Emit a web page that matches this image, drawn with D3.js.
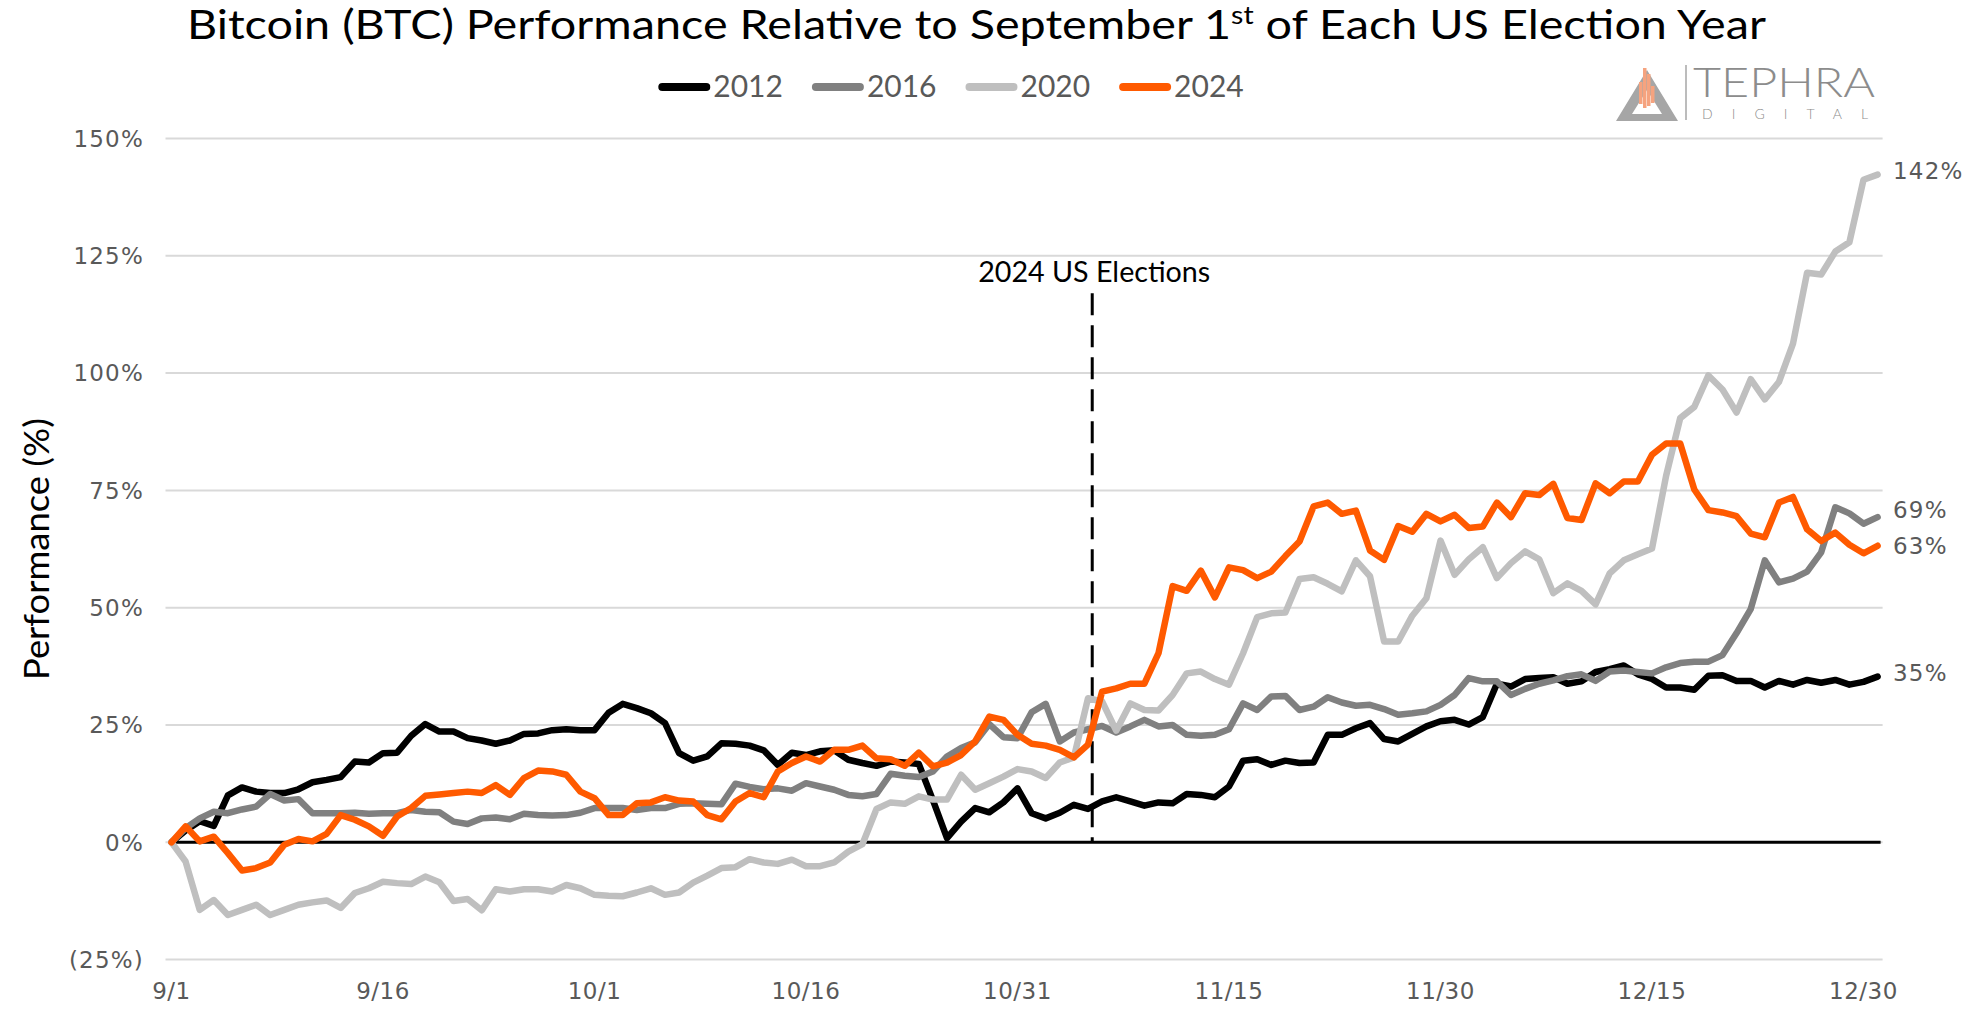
<!DOCTYPE html>
<html>
<head>
<meta charset="utf-8">
<script src="https://cdn.jsdelivr.net/npm/d3@7"></script>
<style>
  html, body { margin: 0; padding: 0; background: #fff; }
  svg { display: block; }
</style>
</head>
<body>
<div id="plot"></div>
<script>
/* Data: % change vs. Sep 1, one value per day from 9/1 to 12/31 */
var years = ['2012', '2016', '2020', '2024'];
var colors = ['#000000', '#808080', '#bfbfbf', '#ff5a00'];

var perf2012 = [
  0, 2.5, 4.5, 3.5, 10, 11.7, 10.8, 10.5, 10.5, 11.3, 12.8, 13.3, 13.9, 17.2, 17.0, 19.0, 19.1, 22.7, 25.2, 23.6,
  23.6, 22.2, 21.7, 21.0, 21.7, 23.1, 23.2, 23.9, 24.1, 23.9, 23.9, 27.6, 29.5, 28.6, 27.5, 25.4, 19.0, 17.4, 18.3, 21.1,
  21.0, 20.6, 19.6, 16.5, 19.1, 18.6, 19.4, 19.6, 17.6, 16.9, 16.3, 17.2, 17.0, 16.7, 9.0, 0.9, 4.4, 7.3, 6.4, 8.5,
  11.5, 6.2, 5.1, 6.3, 8.0, 7.1, 8.7, 9.6, 8.7, 7.8, 8.5, 8.3, 10.3, 10.1, 9.6, 11.9, 17.4, 17.7, 16.5, 17.4,
  16.9, 17.0, 22.9, 22.9, 24.3, 25.4, 22.0, 21.5, 23.1, 24.7, 25.8, 26.1, 25.1, 26.7, 33.8, 33.2, 34.8, 35.0, 35.2, 33.8,
  34.3, 36.3, 36.9, 37.7, 35.8, 34.8, 33.0, 33.0, 32.5, 35.5, 35.6, 34.4, 34.4, 33.0, 34.4, 33.6, 34.6, 34.0, 34.6, 33.6,
  34.2, 35.3
];
var perf2016 = [
  0, 3.0, 5.1, 6.5, 6.2, 7.0, 7.6, 10.3, 8.9, 9.2, 6.2, 6.2, 6.2, 6.3, 6.1, 6.2, 6.2, 6.9, 6.5, 6.4,
  4.4, 3.9, 5.1, 5.3, 4.9, 6.1, 5.8, 5.7, 5.8, 6.3, 7.3, 7.3, 7.3, 6.9, 7.3, 7.3, 8.2, 8.3, 8.2, 8.1,
  12.5, 11.8, 11.3, 11.5, 11.0, 12.6, 11.9, 11.2, 10.1, 9.8, 10.3, 14.6, 14.2, 13.9, 15.1, 18.3, 20.1, 21.3, 25.2, 22.4,
  22.2, 27.7, 29.5, 21.5, 23.4, 24.1, 24.8, 23.4, 24.7, 26.1, 24.7, 25.0, 22.9, 22.7, 22.9, 24.1, 29.6, 28.2, 31.1, 31.2,
  28.2, 28.9, 30.9, 29.8, 29.1, 29.3, 28.4, 27.2, 27.5, 27.9, 29.3, 31.4, 35.0, 34.3, 34.3, 31.4, 32.7, 33.8, 34.5, 35.4,
  35.8, 34.4, 36.4, 36.6, 36.3, 36.0, 37.3, 38.2, 38.5, 38.5, 39.9, 44.6, 49.7, 60.1, 55.4, 56.2, 57.7, 61.8, 71.4, 70.1,
  67.9, 69.3
];
var perf2020 = [
  0, -4.1, -14.4, -12.3, -15.5, -14.4, -13.3, -15.5, -14.4, -13.3, -12.8, -12.4, -14.0, -10.8, -9.8, -8.4, -8.7, -8.9, -7.3, -8.5,
  -12.5, -12.1, -14.5, -10.0, -10.5, -10.0, -10.0, -10.5, -9.1, -9.8, -11.2, -11.4, -11.5, -10.7, -9.8, -11.2, -10.7, -8.6, -7.1, -5.5,
  -5.3, -3.6, -4.3, -4.6, -3.7, -5.1, -5.1, -4.3, -2.0, -0.4, 7.1, 8.5, 8.2, 9.8, 9.1, 9.1, 14.4, 11.2, 12.6, 14.0,
  15.6, 15.1, 13.7, 17.0, 18.1, 30.7, 30.0, 23.8, 29.6, 28.2, 28.1, 31.4, 36.0, 36.4, 34.8, 33.6, 40.3, 48.0, 48.8, 49.0,
  56.1, 56.5, 55.1, 53.5, 60.1, 56.7, 42.8, 42.8, 48.3, 52.0, 64.3, 57.0, 60.3, 62.9, 56.3, 59.5, 62.0, 60.3, 53.1, 55.2,
  53.6, 50.7, 57.3, 60.1, 61.4, 62.6, 78.1, 90.4, 92.8, 99.5, 96.5, 91.6, 98.7, 94.4, 98.1, 106.3, 121.4, 121.0, 125.9, 127.9,
  141.2, 142.3
];
var perf2024 = [
  0, 3.4, 0.2, 1.2, -2.3, -6.0, -5.5, -4.3, -0.5, 0.7, 0.2, 1.8, 5.8, 4.8, 3.4, 1.4, 5.5, 7.3, 9.9, 10.2,
  10.5, 10.8, 10.5, 12.2, 10.1, 13.7, 15.3, 15.1, 14.4, 10.8, 9.4, 5.8, 5.8, 8.3, 8.5, 9.6, 8.9, 8.7, 5.8, 4.9,
  8.7, 10.5, 9.6, 15.1, 16.9, 18.3, 17.2, 19.7, 19.7, 20.6, 17.9, 17.7, 16.3, 19.1, 16.2, 17.0, 18.6, 21.5, 26.8, 26.1,
  22.9, 21.0, 20.6, 19.7, 18.1, 20.8, 32.1, 32.8, 33.8, 33.8, 40.3, 54.6, 53.6, 57.9, 52.2, 58.6, 58.0, 56.3, 57.7, 61.0,
  64.1, 71.6, 72.4, 70.0, 70.7, 62.2, 60.2, 67.4, 66.2, 70.0, 68.4, 69.8, 67.0, 67.3, 72.4, 69.3, 74.4, 74.0, 76.4, 69.1,
  68.7, 76.5, 74.4, 76.9, 76.9, 82.6, 85.0, 85.0, 75.2, 70.8, 70.3, 69.5, 65.8, 65.0, 72.4, 73.6, 66.7, 64.2, 66.0, 63.4,
  61.6, 63.2
];
var series = [perf2012, perf2016, perf2020, perf2024];

var xTickIndex = [0, 15, 30, 45, 60, 75, 90, 105, 120];
var xTickLabels = ['9/1', '9/16', '10/1', '10/16', '10/31', '11/15', '11/30', '12/15', '12/30'];
var yTicks = [-25, 0, 25, 50, 75, 100, 125, 150];

// election day marker (day index after 9/1) and its vertical extent in %
var electionDay = 65.3;
var electionSpan = [0, 117];
var electionLabel = '2024 US Elections';

/* Setup */
var W = 1985, H = 1009;
var svg = d3.select('div#plot').append('svg')
  .attr('width', W)
  .attr('height', H);

var x = d3.scaleLinear().domain([0, perf2012.length - 1]).range([171.5, 1877.6]);
var y = d3.scaleLinear().domain([-25, 150]).range([959.6, 138.5]);

var tickFont = 'DejaVu Sans';
var textFont = 'Lato';

/* Title */
var title = svg.append('text')
  .attr('x', 187)
  .attr('y', 39)
  .attr('textLength', 1579)
  .attr('lengthAdjust', 'spacingAndGlyphs')
  .style('font-family', textFont)
  .style('font-size', '41px')
  .style('fill', '#000');
title.append('tspan').text('Bitcoin (BTC) Performance Relative to September 1');
title.append('tspan').attr('dy', -15).style('font-size', '25px').text('st');
title.append('tspan').attr('dy', 15).text(' of Each US Election Year');

/* Legend */
var legend = svg.append('g');
var lx = 0;
years.forEach(function(yr, i) {
  var item = legend.append('g').attr('transform', 'translate(' + lx + ',0)');
  item.append('line')
    .attr('x1', 4).attr('x2', 48)
    .attr('y1', 0).attr('y2', 0)
    .attr('stroke', colors[i])
    .attr('stroke-width', 8)
    .attr('stroke-linecap', 'round');
  var t = item.append('text')
    .attr('x', 55)
    .attr('y', 10)
    .style('font-family', textFont)
    .style('font-size', '30px')
    .style('fill', '#595959')
    .text(yr);
  lx += 55 + t.node().getComputedTextLength() + 29;
});
lx -= 29;
legend.attr('transform', 'translate(' + (951 - lx / 2) + ',87)');

/* Grid */
svg.append('g').selectAll('line')
  .data(yTicks)
  .enter()
  .append('line')
  .attr('x1', x(0) - 6)
  .attr('x2', x(perf2012.length - 1) + 5)
  .attr('y1', function(d) { return y(d); })
  .attr('y2', function(d) { return y(d); })
  .attr('stroke', '#d9d9d9')
  .attr('stroke-width', 2);

/* Y axis labels */
svg.append('g').selectAll('text')
  .data(yTicks)
  .enter()
  .append('text')
  .attr('x', 144)
  .attr('y', function(d) { return y(d); })
  .attr('dy', '0.36em')
  .attr('text-anchor', 'end')
  .style('font-family', tickFont)
  .style('font-size', '23px')
  .style('letter-spacing', '1.2px')
  .style('fill', '#595959')
  .text(function(d) { return d < 0 ? '(' + Math.abs(d) + '%)' : d + '%'; });

svg.append('text')
  .attr('transform', 'translate(37,549) rotate(-90)')
  .attr('text-anchor', 'middle')
  .attr('dy', '0.35em')
  .attr('textLength', 262)
  .attr('lengthAdjust', 'spacingAndGlyphs')
  .style('font-family', textFont)
  .style('font-size', '35px')
  .style('fill', '#000')
  .text('Performance (%)');

/* X axis labels */
svg.append('g').selectAll('text')
  .data(xTickIndex)
  .enter()
  .append('text')
  .attr('x', function(d) { return x(d); })
  .attr('y', 991)
  .attr('dy', '0.36em')
  .attr('text-anchor', 'middle')
  .style('font-family', tickFont)
  .style('font-size', '23px')
  .style('letter-spacing', '0.5px')
  .style('fill', '#595959')
  .text(function(d, i) { return xTickLabels[i]; });

/* Zero line */
svg.append('line')
  .attr('x1', x(0))
  .attr('x2', x(perf2012.length - 1) + 3)
  .attr('y1', y(0))
  .attr('y2', y(0))
  .attr('stroke', '#000')
  .attr('stroke-width', 3);

/* Election marker */
svg.append('line')
  .attr('x1', x(electionDay)).attr('x2', x(electionDay))
  .attr('y1', y(electionSpan[1])).attr('y2', y(electionSpan[0]))
  .attr('stroke', '#000')
  .attr('stroke-width', 3)
  .attr('stroke-dasharray', '22,10');
svg.append('text')
  .attr('x', x(electionDay) + 2)
  .attr('y', y(electionSpan[1]) - 21)
  .attr('dy', '0.35em')
  .attr('text-anchor', 'middle')
  .attr('textLength', 232)
  .attr('lengthAdjust', 'spacingAndGlyphs')
  .style('font-family', textFont)
  .style('font-size', '28px')
  .style('fill', '#000')
  .text(electionLabel);

/* Lines */
var line = d3.line()
  .x(function(d, i) { return x(i); })
  .y(function(d) { return y(d); });

svg.append('g').selectAll('path')
  .data(series)
  .enter()
  .append('path')
  .attr('d', line)
  .attr('fill', 'none')
  .attr('stroke', function(d, i) { return colors[i]; })
  .attr('stroke-width', 6.5)
  .attr('stroke-linejoin', 'round')
  .attr('stroke-linecap', 'round');

/* End labels, pushed apart when they would overlap */
var ends = series.map(function(s) {
  var v = s[s.length - 1];
  return { v: v, y: y(v) - 4 };
}).sort(function(a, b) { return a.y - b.y; });
for (var k = 1; k < ends.length; k++) {
  if (ends[k].y - ends[k - 1].y < 36) {
    var mid = (ends[k].y + ends[k - 1].y) / 2;
    ends[k - 1].y = mid - 18;
    ends[k].y = mid + 18;
  }
}
svg.append('g').selectAll('text')
  .data(ends)
  .enter()
  .append('text')
  .attr('x', 1893)
  .attr('y', function(d) { return d.y; })
  .attr('dy', '0.36em')
  .style('font-family', tickFont)
  .style('font-size', '23px')
  .style('letter-spacing', '1.2px')
  .style('fill', '#595959')
  .text(function(d) { return Math.round(d.v) + '%'; });

/* Logo */
var logo = svg.append('g');
logo.append('path')
  .attr('d', 'M1616,121 L1647,70 L1678,121 Z M1632,114 L1662,114 L1647,90 Z')
  .attr('fill', '#a6a6a6')
  .attr('fill-rule', 'evenodd');
[[1639, 82, 104], [1643, 68, 108], [1647, 74, 106], [1651, 86, 103]].forEach(function(b) {
  logo.append('rect')
    .attr('x', b[0]).attr('y', b[1])
    .attr('width', 3.5).attr('height', b[2] - b[1])
    .attr('fill', '#f5a37f');
});
logo.append('line')
  .attr('x1', 1686).attr('x2', 1686)
  .attr('y1', 65).attr('y2', 120)
  .attr('stroke', '#a6a6a6')
  .attr('stroke-width', 1.5);
logo.append('text')
  .attr('x', 1693).attr('y', 97)
  .attr('textLength', 182)
  .attr('lengthAdjust', 'spacingAndGlyphs')
  .style('font-family', textFont)
  .style('font-weight', 300)
  .style('font-size', '41px')
  .style('fill', '#8c8c8c')
  .text('TEPHRA');
logo.append('text')
  .attr('x', 1702).attr('y', 119)
  .attr('textLength', 166)
  .style('font-family', textFont)
  .style('font-weight', 300)
  .style('font-size', '14px')
  .style('fill', '#8c8c8c')
  .text('DIGITAL');
</script>
</body>
</html>
